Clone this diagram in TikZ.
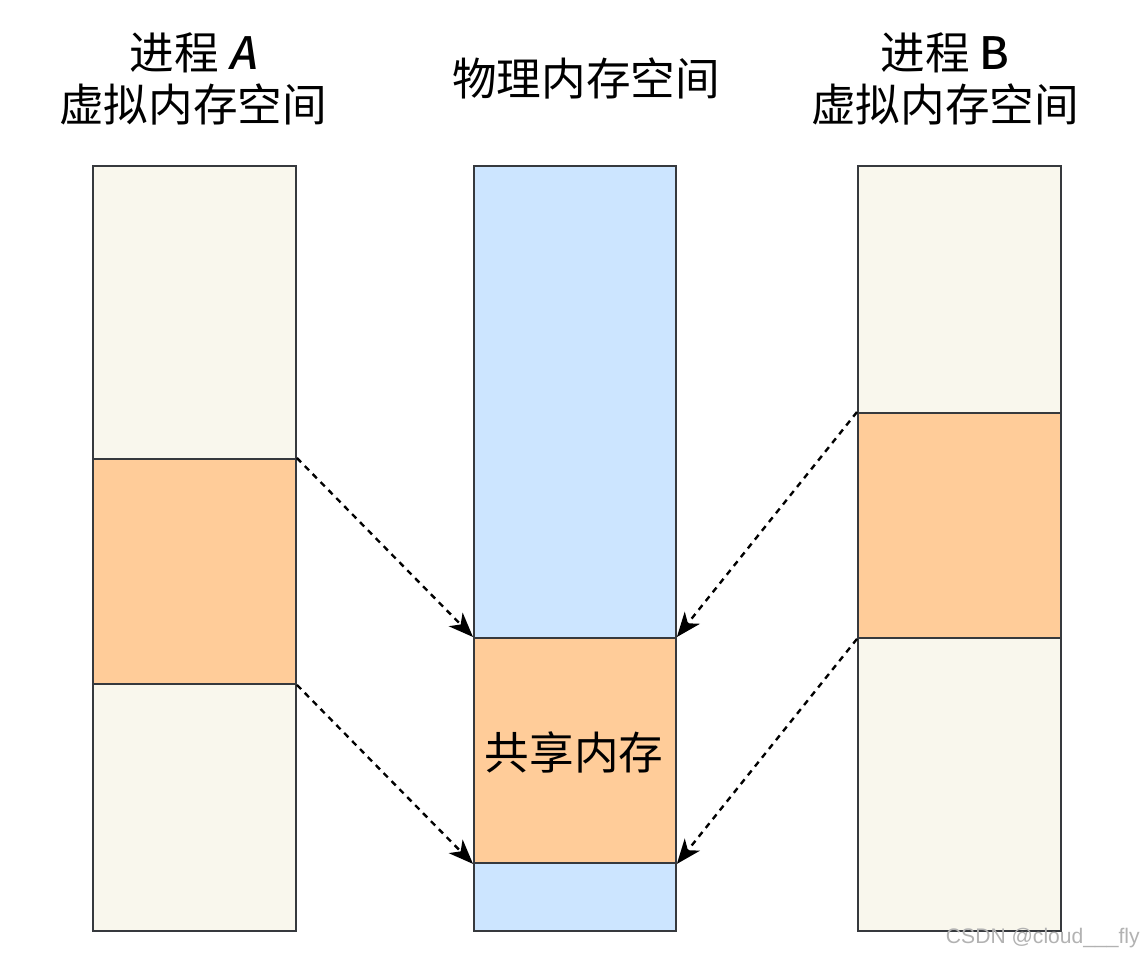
\documentclass[tikz,border=0pt]{standalone}
\usepackage{fontspec}
\usetikzlibrary{arrows.meta}
\newfontfamily\cjk{Noto Sans CJK SC}
\newfontfamily\letterA{Noto Sans CJK SC Medium}[FakeSlant=0.18]
\newfontfamily\letterB{Noto Sans CJK SC Medium}
\newfontfamily\wmfont{Liberation Sans}
\definecolor{cream}{HTML}{F9F7ED}
\definecolor{peach}{HTML}{FFCC99}
\definecolor{skyblue}{HTML}{CCE5FF}
\definecolor{edge}{HTML}{36393D}
\tikzset{
  blk/.style={draw=edge, line width=1.1pt, anchor=north west, inner sep=0pt, minimum width=4.06cm},
  ttl/.style={font=\cjk\fontsize{25.4}{30}\selectfont, align=center, text=black, inner sep=0pt},
  lnk/.style={dashed, dash pattern=on 3.4pt off 3pt, line width=1.35pt, -{Stealth[length=14pt,width=11pt,inset=4pt]}},
}
\begin{document}
\begin{tikzpicture}[x=0.02cm,y=-0.02cm]
\useasboundingbox[fill=white] (0,0) rectangle (1143,958);
% process A
\node[blk, fill=cream, minimum height=5.86cm] (a1) at (92,165) {};
\node[blk, fill=peach, minimum height=4.5cm] (a2) at (92,458) {};
\node[blk, fill=cream, minimum height=4.94cm] (a3) at (92,683) {};
% physical
\node[blk, fill=skyblue, minimum width=4.04cm, minimum height=9.44cm] (m1) at (473,165) {};
\node[blk, fill=peach, minimum width=4.04cm, minimum height=4.5cm] (m2) at (473,637) {};
\node[blk, fill=skyblue, minimum width=4.04cm, minimum height=1.36cm] (m3) at (473,862) {};
% process B
\node[blk, fill=cream, minimum height=4.94cm] (b1) at (857,165) {};
\node[blk, fill=peach, minimum height=4.5cm] (b2) at (857,412) {};
\node[blk, fill=cream, minimum height=5.86cm] (b3) at (857,637) {};
% labels
\node[ttl] (ta) at (193,79) {进程 {\letterA A}\\虚拟内存空间};
\node[ttl] (tm) at (586,78) {物理内存空间};
\node[ttl] (tb) at (945,79) {进程 {\letterB B}\\虚拟内存空间};
\node[ttl] (shared) at (574,752) {共享内存};
% links
\draw[lnk] (a2.north east) -- (m2.north west);
\draw[lnk] (a2.south east) -- (m2.south west);
\draw[lnk] (b2.north west) -- (m2.north east);
\draw[lnk] (b2.south west) -- (m2.south east);
% watermark
\node[font=\wmfont\fontsize{12}{14}\selectfont, text=black!30, anchor=east, inner sep=0pt] (wm) at (1140,938) {CSDN @cloud\_\_\_fly};
\end{tikzpicture}
\end{document}
